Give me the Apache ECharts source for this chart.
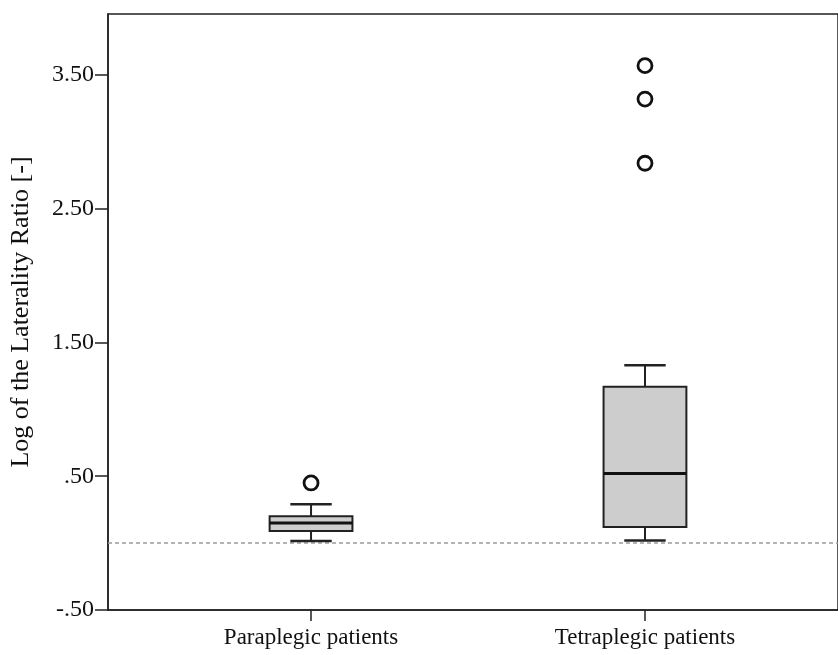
<!DOCTYPE html>
<html>
<head>
<meta charset="utf-8">
<script src="https://cdn.jsdelivr.net/npm/echarts@6/dist/echarts.min.js"></script>
<style>html,body{margin:0;padding:0;background:#fff;}#c{width:838px;height:655px;}</style>
</head>
<body>
<div id="c"></div>
<script>
// ---- data ----
const categories = ['Paraplegic patients', 'Tetraplegic patients'];
// [lower whisker, Q1, median, Q3, upper whisker]
const paraplegicBox = [0.015, 0.09, 0.15, 0.20, 0.29];
const tetraplegicBox = [0.02, 0.12, 0.52, 1.17, 1.33];
const paraplegicOutliers = [0.45];
const tetraplegicOutliers = [2.84, 3.32, 3.57];
const yTickValues = [-0.5, 0.5, 1.5, 2.5, 3.5];
const referenceLine = 0;

const boxes = [paraplegicBox, tetraplegicBox];
const outliers = [paraplegicOutliers, tetraplegicOutliers];

const boxData = boxes.map((b, i) => [i].concat(b));
const outlierData = [];
outliers.forEach((arr, i) => arr.forEach(v => outlierData.push([i, v])));

function fmtY(v) {
  let s = Number(v).toFixed(2);
  s = s.replace(/^0\./, '.').replace(/^-0\./, '-.');
  return s;
}

const FONT = 'Liberation Serif';
const BOX_W = 0.248; // in category units
const chart = echarts.init(document.getElementById('c'));
chart.setOption({
  animation: false,
  backgroundColor: '#fff',
  grid: {
    left: 107, top: 14, bottom: 45, right: -3,
    show: true, borderColor: '#222', borderWidth: 1.5, backgroundColor: 'transparent'
  },
  xAxis: {
    type: 'value',
    min: -0.608, max: 1.578,
    splitLine: { show: false },
    axisLine: { show: true, onZero: false, lineStyle: { color: '#222', width: 1.5 } },
    axisTick: { show: true, customValues: [0, 1], length: 11, lineStyle: { color: '#222', width: 1.5 } },
    axisLabel: {
      customValues: [0, 1],
      formatter: v => categories[Math.round(v)] || '',
      fontFamily: FONT, fontSize: 23, color: '#111', margin: 16
    }
  },
  yAxis: {
    type: 'value',
    min: -0.5, max: 3.956,
    name: 'Log of the Laterality Ratio [-]',
    nameLocation: 'middle',
    nameGap: 74,
    nameTextStyle: { fontFamily: FONT, fontSize: 26, color: '#111' },
    splitLine: { show: false },
    axisLine: { show: true, onZero: false, lineStyle: { color: '#222', width: 1.5 } },
    axisTick: { show: true, customValues: yTickValues, length: 13, lineStyle: { color: '#222', width: 1.5 } },
    axisLabel: {
      customValues: yTickValues,
      formatter: fmtY,
      fontFamily: FONT, fontSize: 24, color: '#111', margin: 14
    }
  },
  series: [
    {
      type: 'scatter',
      data: outlierData,
      symbol: 'circle',
      symbolSize: 14,
      z: 4,
      itemStyle: { color: '#fff', borderColor: '#111', borderWidth: 2.8, opacity: 1 },
      markLine: {
        silent: true,
        symbol: ['none', 'none'],
        label: { show: false },
        z: 1,
        lineStyle: { color: '#9a9a9a', type: [4, 3], width: 1.5 },
        data: [{ yAxis: referenceLine }]
      }
    },
    {
      type: 'custom',
      z: 3,
      data: boxData,
      encode: { x: 0, y: [1, 2, 3, 4, 5] },
      renderItem: function (params, api) {
        const x = api.value(0);
        const lo = api.coord([x, api.value(1)]);
        const q1 = api.coord([x, api.value(2)]);
        const md = api.coord([x, api.value(3)]);
        const q3 = api.coord([x, api.value(4)]);
        const hi = api.coord([x, api.value(5)]);
        const halfW = api.size([BOX_W, 0])[0] / 2;
        const capHalf = halfW / 2;
        const cx = lo[0];
        const stroke = { stroke: '#222', lineWidth: 2 };
        return {
          type: 'group',
          children: [
            { type: 'line', shape: { x1: cx, y1: q3[1], x2: cx, y2: hi[1] }, style: stroke },
            { type: 'line', shape: { x1: cx, y1: q1[1], x2: cx, y2: lo[1] }, style: stroke },
            { type: 'line', shape: { x1: cx - capHalf, y1: hi[1], x2: cx + capHalf, y2: hi[1] }, style: { stroke: '#222', lineWidth: 2.5 } },
            { type: 'line', shape: { x1: cx - capHalf, y1: lo[1], x2: cx + capHalf, y2: lo[1] }, style: { stroke: '#222', lineWidth: 2.5 } },
            { type: 'rect', shape: { x: cx - halfW, y: q3[1], width: 2 * halfW, height: q1[1] - q3[1] },
              style: { fill: '#cdcdcd', stroke: '#222', lineWidth: 2 } },
            { type: 'line', shape: { x1: cx - halfW, y1: md[1], x2: cx + halfW, y2: md[1] }, style: { stroke: '#111', lineWidth: 3 } }
          ]
        };
      }
    }
  ]
});
</script>
</body>
</html>
